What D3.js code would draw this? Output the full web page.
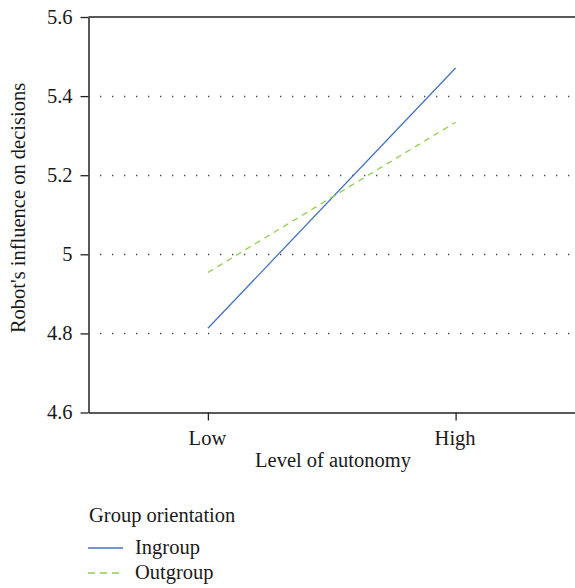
<!DOCTYPE html>
<html><head><meta charset="utf-8">
<script src="https://cdn.jsdelivr.net/npm/d3@7"></script>
</head><body>
<script>
const categories = ["Low", "High"];
const ingroup = [4.813, 5.471];
const outgroup = [4.954, 5.334];
const yTicks = [4.6, 4.8, 5, 5.2, 5.4, 5.6];
const seriesNames = ["Ingroup", "Outgroup"];
const seriesColors = ["#4472C4", "#92D050"];

(function () {
const FONT = "Liberation Serif";
const BASE = 24, S = 20.5 / 24;
const W = 575, H = 588;
d3.select("body").style("margin", "0px").style("background", "#fff");
const svg = d3.select("body").append("svg").attr("width", W).attr("height", H)
  .style("display", "block").attr("font-family", FONT);
const pLeft = 88.5, pRight = 575, pTop = 17, pBottom = 412.5;

const x = d3.scalePoint().domain(categories).range([pLeft, pRight]).padding(0.482);
const y = d3.scaleLinear().domain([4.6, 5.6]).range([pBottom, pTop]);

function label(parent, tx, ty, str, anchor, rot) {
  const g = parent.append("g").attr("transform", `translate(${tx},${ty})${rot ? " rotate(" + rot + ")" : ""} scale(${S})`);
  g.append("text").attr("x", 0).attr("y", 0).attr("text-anchor", anchor || "start")
    .attr("font-family", FONT).attr("font-size", BASE).attr("fill", "#1a1a1a").text(str);
  return g;
}

// gridlines
svg.append("g").selectAll("line").data(yTicks.filter(t => t > 4.6 && t < 5.6)).join("line")
  .attr("x1", pLeft + 11.5).attr("x2", pRight).attr("y1", d => Math.round(y(d)) + 0.5).attr("y2", d => Math.round(y(d)) + 0.5)
  .attr("stroke", "#444").attr("stroke-width", 1.3).attr("stroke-dasharray", "1.3,10.7");

// top border
svg.append("line").attr("x1", pLeft).attr("x2", pRight).attr("y1", pTop).attr("y2", pTop)
  .attr("stroke", "#222").attr("stroke-width", 1.5);

// y axis
const yAxis = svg.append("g").attr("transform", `translate(${pLeft},0)`)
  .call(d3.axisLeft(y).tickValues(yTicks).tickFormat(d => String(+d.toFixed(1))).tickSizeInner(8).tickSizeOuter(0).tickPadding(7));
yAxis.attr("font-family", FONT).attr("font-size", BASE);
yAxis.select(".domain").attr("stroke", "#222").attr("stroke-width", 1.5);
yAxis.selectAll(".tick line").attr("stroke", "#222").attr("stroke-width", 1.3);
yAxis.selectAll(".tick text").attr("x", 0).attr("dy", null).attr("y", 0)
  .attr("transform", `translate(-16,6) scale(${S})`)
  .attr("font-family", FONT).attr("font-size", BASE).attr("fill", "#1a1a1a");

// x axis
const xAxis = svg.append("g").attr("transform", `translate(0,${pBottom})`)
  .call(d3.axisBottom(x).tickSizeInner(8).tickSizeOuter(0).tickPadding(11));
xAxis.attr("font-family", FONT).attr("font-size", BASE);
xAxis.select(".domain").attr("stroke", "#222").attr("stroke-width", 1.5);
xAxis.selectAll(".tick line").attr("stroke", "#222").attr("stroke-width", 1.3);
xAxis.selectAll(".tick text").attr("y", 0).attr("dy", null)
  .attr("transform", `translate(-1,32.5) scale(${S})`)
  .attr("font-family", FONT).attr("font-size", BASE).attr("fill", "#1a1a1a");

// titles
label(svg, 333, 467, "Level of autonomy", "middle");
label(svg, 25, 208, "Robot's influence on decisions", "middle", -90);

// lines
const line = d3.line().x((d, i) => x(categories[i])).y(d => y(d));
svg.append("path").datum(ingroup).attr("d", line).attr("fill", "none")
  .attr("stroke", seriesColors[0]).attr("stroke-width", 1.3);
svg.append("path").datum(outgroup).attr("d", line).attr("fill", "none")
  .attr("stroke", seriesColors[1]).attr("stroke-width", 1.3).attr("stroke-dasharray", "6,5");

// legend
label(svg, 89, 522, "Group orientation", "start");
const lg = svg.append("g");
seriesNames.forEach((n, i) => {
  const yy = 548 + i * 25;
  lg.append("line").attr("x1", 88).attr("x2", 123).attr("y1", yy).attr("y2", yy)
    .attr("stroke", seriesColors[i]).attr("stroke-width", 1.3)
    .attr("stroke-dasharray", i === 1 ? "7,5" : null);
  label(lg, 135, yy + 6, n, "start");
});
})();
</script>
</body></html>
